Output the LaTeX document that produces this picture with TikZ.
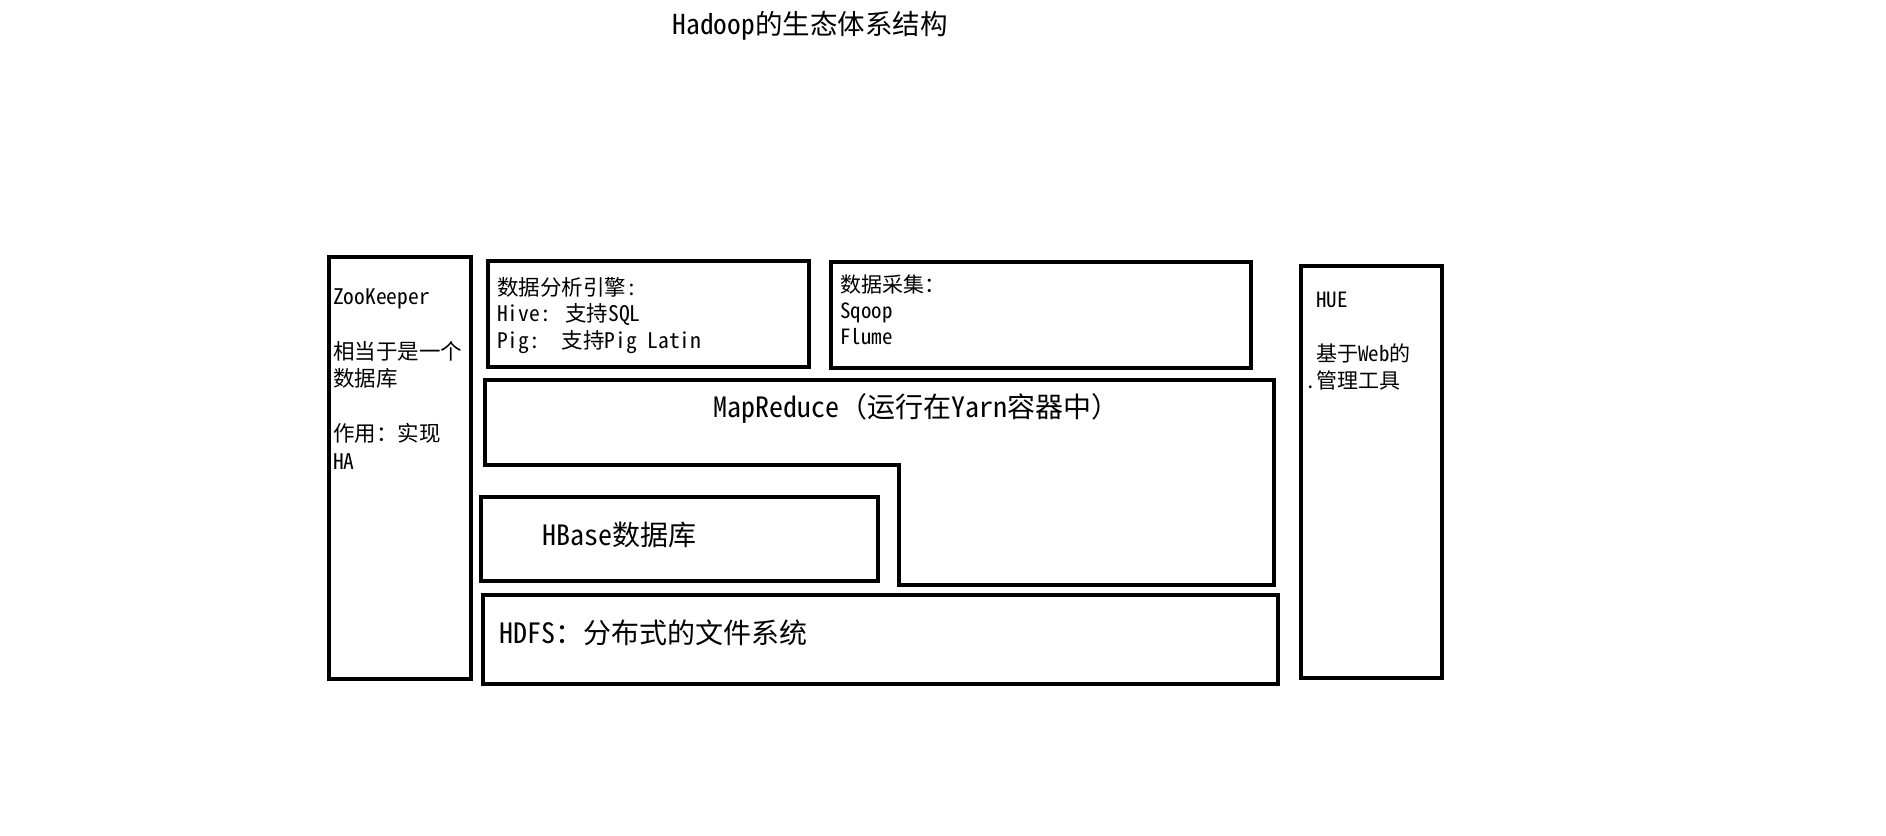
\documentclass[tikz,border=0pt]{standalone}
\usepackage{fontspec}
\setmainfont{Noto Sans Mono CJK SC}

\begin{document}
\begin{tikzpicture}[x=1pt, y=-1pt,
    box/.style={line width=3.4pt},
    txt/.style={anchor=base west, inner sep=0pt, align=left}]
    % 画布大小
    \useasboundingbox (0,0) rectangle (1886,835);

    % 标题
    \node[anchor=base, inner sep=0pt, font=\fontsize{27.5}{30}\selectfont] (title) at (810,34) {Hadoop的生态体系结构};

    % 左边: ZooKeeper (位置为最后一行的基线)
    \draw[box] (329,257) rectangle (471,679);
    \node[txt, font=\fontsize{21.5}{27.5}\selectfont] (zookeeper) at (333,469) {ZooKeeper\\[27.5pt]相当于是一个\\数据库\\[27.5pt]作用：实现\\HA};

    % 数据分析引擎
    \draw[box] (488,261) rectangle (809,367);
    \node[txt, font=\fontsize{21.5}{26.5}\selectfont] (analysis) at (497,348) {数据分析引擎:\\Hive: 支持SQL\\Pig:~~支持Pig Latin};

    % 数据采集
    \draw[box] (831,262) rectangle (1251,368);
    \node[txt, font=\fontsize{21}{26}\selectfont] (collect) at (840,344) {数据采集：\\Sqoop\\Flume};

    % 右边: HUE
    \draw[box] (1301,266) rectangle (1442,678);
    \node[txt, font=\fontsize{21}{27}\selectfont] (hue) at (1316,388) {HUE\\[27pt]基于Web的\\\llap{.}管理工具};

    % MapReduce (L 形)
    \draw[box] (485,380) -- (1274,380) -- (1274,585) -- (899,585) -- (899,465) -- (485,465) -- cycle;
    \node[txt, font=\fontsize{28}{30}\selectfont] (mapreduce) at (713,417) {MapReduce（运行在Yarn容器中）};

    % HBase
    \draw[box] (481,497) rectangle (878,581);
    \node[txt, font=\fontsize{28}{30}\selectfont] (hbase) at (542,545) {HBase数据库};

    % HDFS
    \draw[box] (483,595) rectangle (1278,684);
    \node[txt, font=\fontsize{28}{30}\selectfont] (hdfs) at (499,643) {HDFS：分布式的文件系统};
\end{tikzpicture}
\end{document}
